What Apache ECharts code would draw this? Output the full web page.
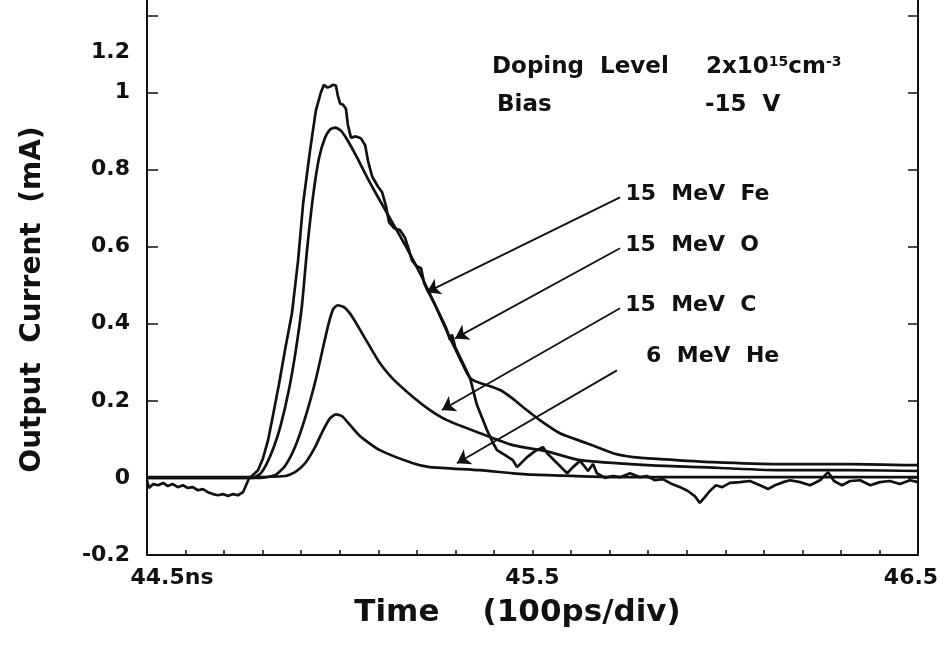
<!DOCTYPE html>
<html><head><meta charset="utf-8">
<script src="https://cdn.jsdelivr.net/npm/echarts@6/dist/echarts.min.js"></script>
<style>html,body{margin:0;padding:0;background:#fff}#c{width:945px;height:647px}</style>
</head><body><div id="c"></div>
<script>
// ---- data (time in ns, current in mA) ----
const feTime = [44.500,44.505,44.516,44.529,44.542,44.554,44.567,44.580,44.593,44.606,44.619,44.632,44.645,44.658,44.671,44.684,44.697,44.710,44.723,44.736,44.749,44.757,44.765,44.772,44.788,44.801,44.814,44.827,44.842,44.858,44.876,44.892,44.905,44.923,44.938,44.951,44.959,44.967,44.975,44.982,44.990,44.995,45.001,45.008,45.016,45.021,45.029,45.042,45.055,45.066,45.073,45.084,45.099,45.110,45.120,45.128,45.141,45.156,45.169,45.180,45.187,45.200,45.211,45.219,45.226,45.247,45.265,45.276,45.286,45.291,45.300,45.307,45.325,45.338,45.356,45.382,45.398,45.408,45.429,45.449,45.460,45.473,45.486,45.506,45.527,45.538,45.551,45.564,45.577,45.590,45.605,45.623,45.634,45.644,45.657,45.667,45.688,45.709,45.727,45.753,45.779,45.797,45.818,45.838,45.862,45.883,45.903,45.921,45.934,45.947,45.960,45.976,45.992,46.012,46.038,46.064,46.090,46.111,46.129,46.150,46.168,46.194,46.220,46.246,46.267,46.282,46.303,46.324,46.350,46.376,46.401,46.427,46.453,46.479,46.500];
const feCurrent = [-0.006,-0.026,-0.016,-0.019,-0.013,-0.021,-0.016,-0.024,-0.019,-0.026,-0.024,-0.032,-0.029,-0.037,-0.042,-0.045,-0.042,-0.047,-0.042,-0.045,-0.037,-0.019,0.000,0.005,0.020,0.051,0.098,0.163,0.241,0.332,0.427,0.565,0.712,0.850,0.953,1.000,1.020,1.013,1.015,1.020,1.018,0.992,0.971,0.969,0.958,0.917,0.883,0.886,0.881,0.863,0.824,0.782,0.756,0.741,0.705,0.663,0.648,0.643,0.624,0.590,0.565,0.549,0.544,0.505,0.490,0.450,0.412,0.389,0.358,0.372,0.338,0.324,0.286,0.259,0.189,0.124,0.090,0.072,0.059,0.046,0.028,0.041,0.054,0.069,0.080,0.064,0.051,0.038,0.025,0.012,0.028,0.044,0.031,0.018,0.036,0.012,0.000,0.005,0.002,0.012,0.002,0.005,-0.006,-0.003,-0.016,-0.024,-0.034,-0.047,-0.065,-0.050,-0.034,-0.019,-0.024,-0.013,-0.011,-0.008,-0.019,-0.029,-0.019,-0.011,-0.006,-0.011,-0.019,-0.006,0.015,-0.008,-0.019,-0.008,-0.006,-0.019,-0.011,-0.008,-0.016,-0.006,-0.011];

const oTime = [44.5,44.772,44.793,44.811,44.829,44.847,44.868,44.886,44.902,44.915,44.931,44.946,44.962,44.975,44.988,45.003,45.019,45.045,45.071,45.104,45.138,45.174,45.208,45.234,45.260,45.286,45.312,45.338,45.364,45.390,45.416,45.447,45.475,45.519,45.571,45.641,45.709,45.761,45.831,45.968,46.142,46.324,46.5];
const oCurrent = [0.0,0.0,0.010,0.038,0.080,0.137,0.228,0.331,0.448,0.590,0.733,0.829,0.883,0.904,0.909,0.901,0.878,0.831,0.780,0.720,0.660,0.596,0.531,0.477,0.420,0.363,0.309,0.259,0.246,0.238,0.228,0.207,0.184,0.150,0.116,0.090,0.064,0.054,0.049,0.041,0.036,0.036,0.033];

const cTime = [44.5,44.793,44.832,44.858,44.884,44.910,44.936,44.954,44.970,44.983,44.995,45.011,45.032,45.058,45.084,45.104,45.136,45.190,45.234,45.278,45.364,45.449,45.538,45.623,45.797,45.934,46.142,46.324,46.5];
const cCurrent = [0.0,0.0,0.007,0.031,0.080,0.155,0.248,0.326,0.396,0.438,0.448,0.443,0.419,0.375,0.331,0.298,0.259,0.210,0.176,0.150,0.116,0.085,0.069,0.046,0.033,0.028,0.020,0.020,0.018];

const heTime = [44.5,44.767,44.858,44.884,44.910,44.936,44.957,44.975,44.990,45.006,45.027,45.053,45.104,45.190,45.234,45.364,45.449,45.538,45.727,46.064,46.5];
const heCurrent = [0.002,0.002,0.005,0.015,0.038,0.080,0.124,0.155,0.165,0.160,0.137,0.108,0.072,0.038,0.028,0.020,0.012,0.007,0.002,0.002,0.002];

const seriesNames = ['15 MeV Fe','15 MeV O','15 MeV C','6 MeV He'];
const arrowLabels = ['15  MeV  Fe','15  MeV  O','15  MeV  C','6  MeV  He'];
const arrowFrom = [[45.727,0.728],[45.727,0.596],[45.727,0.440],[45.719,0.279]];
const arrowTo   = [[45.226,0.482],[45.299,0.362],[45.265,0.176],[45.304,0.038]];

const xLabelValues = [44.5, 45.5, 46.5];
const yTickValues = [-0.2, 0, 0.2, 0.4, 0.6, 0.8, 1, 1.2];
// ---------------------------------------------------------------

const xTickValues = [];
for (let i = 0; i <= 20; i++) xTickValues.push(Math.round((44.5 + i * 0.1) * 10) / 10);

function zip(t, c) { const n = Math.min(t.length, c.length); const r = []; for (let i = 0; i < n; i++) r.push([t[i], c[i]]); return r; }

const INK = '#111';
const FF = '"DejaVu Sans", sans-serif';
const tickFont = { fontFamily: FF, fontWeight: 'bold', fontSize: 22, color: INK };

const lineBase = { type: 'line', showSymbol: false, symbol: 'none', lineStyle: { color: INK, width: 2.7 }, emphasis: { disabled: true }, animation: false, silent: true };

const chart = echarts.init(document.getElementById('c'), null, { renderer: 'canvas' });
chart.setOption({
  backgroundColor: '#fff',
  animation: false,
  grid: { left: 147, right: 27, top: 0, bottom: 92, containLabel: false, outerBoundsMode: 'none' },
  xAxis: {
    type: 'value', min: 44.5, max: 46.5, interval: 0.1,
    axisLine: { show: true, onZero: false, lineStyle: { color: INK, width: 2 } },
    axisTick: { show: true, inside: true, length: 5, customValues: xTickValues, lineStyle: { color: INK, width: 1.5 } },
    axisLabel: Object.assign({}, tickFont, {
      customValues: xLabelValues, margin: 12,
      formatter: function (v) {
        if (Math.abs(v - 44.5) < 1e-6) return '{a|44.5ns}';
        if (Math.abs(v - 45.5) < 1e-6) return '{b|45.5}';
        return '{c|46.5}';
      },
      rich: {
        a: Object.assign({}, tickFont, { padding: [0, 0, 0, 50] }),
        b: Object.assign({}, tickFont),
        c: Object.assign({}, tickFont, { padding: [0, 14, 0, 0] })
      }
    }),
    splitLine: { show: false },
    name: 'Time    (100ps/div)', nameLocation: 'middle', nameGap: 42,
    nameTextStyle: { fontFamily: FF, fontWeight: 'bold', fontSize: 31, color: INK, padding: [0, 30, 0, 0] }
  },
  yAxis: [{
    type: 'value', min: -0.2, max: 1.24, position: 'left',
    axisLine: { show: true, onZero: false, lineStyle: { color: INK, width: 2 } },
    axisTick: { show: true, inside: true, length: 11, customValues: yTickValues, lineStyle: { color: INK, width: 1.5 } },
    axisLabel: Object.assign({}, tickFont, {
      customValues: yTickValues, margin: 17,
      formatter: function (v) { return Math.abs(v - 1.2) < 1e-6 ? '{t|1.2}' : String(v); },
      rich: { t: Object.assign({}, tickFont, { padding: [74, 0, 0, 0] }) }
    }),
    splitLine: { show: false },
    name: 'Output  Current  (mA)', nameLocation: 'middle', nameGap: 100,
    nameTextStyle: { fontFamily: FF, fontWeight: 'bold', fontSize: 28, color: INK, padding: [0, 44, 0, 0] }
  }, {
    type: 'value', min: -0.2, max: 1.24, position: 'right',
    axisLine: { show: true, onZero: false, lineStyle: { color: INK, width: 2 } },
    axisTick: { show: true, inside: true, length: 10, customValues: yTickValues, lineStyle: { color: INK, width: 1.5 } },
    axisLabel: { show: false },
    splitLine: { show: false }
  }],
  series: [
    Object.assign({}, lineBase, { name: seriesNames[0], data: zip(feTime, feCurrent) }),
    Object.assign({}, lineBase, { name: seriesNames[1], data: zip(oTime, oCurrent), smooth: 0.2 }),
    Object.assign({}, lineBase, { name: seriesNames[2], data: zip(cTime, cCurrent), smooth: 0.2 }),
    Object.assign({}, lineBase, { name: seriesNames[3], data: zip(heTime, heCurrent), smooth: 0.2,
      markLine: {
        silent: true, animation: false,
        symbol: ['none', 'arrow'], symbolSize: 13,
        lineStyle: { color: INK, width: 1.8, type: 'solid' },
        emphasis: { disabled: true },
        label: { show: true, position: 'start', distance: 6, fontFamily: FF, fontWeight: 'bold', fontSize: 22, color: INK },
        data: arrowFrom.map(function (f, i) {
          const lab = { show: true, position: 'start', formatter: arrowLabels[i], fontFamily: FF, fontWeight: 'bold', fontSize: 22, color: INK };
          if (i === 3) { lab.padding = [0, 0, 0, 24]; lab.verticalAlign = 'bottom'; }
          return [{ coord: f, label: lab }, { coord: arrowTo[i] }];
        })
      }
    })
  ],
  graphic: [
    { type: 'text', x: 492, y: 67, silent: true, style: { text: 'Doping  Level', fill: INK, font: 'bold 23px "DejaVu Sans"', verticalAlign: 'middle' } },
    { type: 'text', x: 706, y: 67, silent: true, style: {
        text: '{n|2x10}{s|15}{n|cm}{s|-3}', verticalAlign: 'middle',
        rich: { n: { fill: INK, font: 'bold 23px "DejaVu Sans"' }, s: { fill: INK, font: 'bold 14px "DejaVu Sans"', verticalAlign: 'top' } } } },
    { type: 'text', x: 497, y: 105, silent: true, style: { text: 'Bias', fill: INK, font: 'bold 23px "DejaVu Sans"', verticalAlign: 'middle' } },
    { type: 'text', x: 705, y: 105, silent: true, style: { text: '-15  V', fill: INK, font: 'bold 23px "DejaVu Sans"', verticalAlign: 'middle' } }
  ]
});
</script></body></html>
